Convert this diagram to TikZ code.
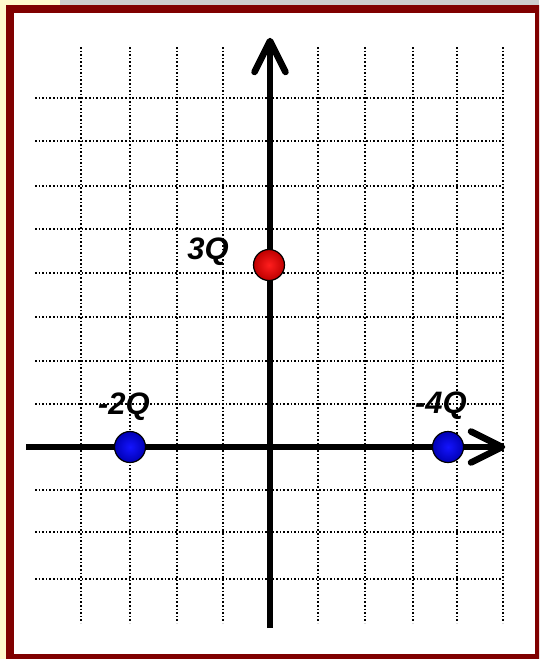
\documentclass[tikz,border=0pt]{standalone}
\usepackage{fontspec}
\setmainfont{Liberation Sans}
\usepackage{xcolor}
\usepackage{tikz}
\definecolor{rahmenrot}{RGB}{128,0,0}
\definecolor{hintergrund}{RGB}{255,249,205}
\definecolor{oben}{RGB}{205,205,205}
\tikzset{
  Gitter/.style={dotted,line width=1.6pt}, % Hilfslinien
  Achse/.style={line width=5.5pt}, % Achsen
  Spitze/.style={line width=6.5pt,line cap=round,line join=round}, % Pfeilspitzen
  Ladung/.style={circle,draw=black,line width=1.2pt,minimum size=31pt,inner sep=0pt},
  LadungRot/.style={Ladung,inner color={rgb,255:red,255;green,30;blue,30},outer color={rgb,255:red,190;green,0;blue,0}},
  LadungBlau/.style={Ladung,inner color={rgb,255:red,20;green,20;blue,255},outer color={rgb,255:red,0;green,0;blue,180}},
  Beschriftung/.style={anchor=base,font={\fontsize{31}{31}\selectfont\bfseries\itshape}}
}

\begin{document}
\begin{tikzpicture}[x=1pt,y=-1pt]
\useasboundingbox (0,0) rectangle (539,659);
\clip (0,0) rectangle (539,659);

%Hintergrund und Rahmen
\fill[hintergrund] (0,0) rectangle (539,659);
\fill[oben] (60,0) rectangle (539,5);
\fill[rahmenrot] (6,5) rectangle (545,665);
\fill[white] (14,13) rectangle (535,654);

%Gitter
\foreach \x in {81,130,177,223,270,318,365,413,457,503}
  \draw[Gitter] (\x,47) -- (\x,623);
\foreach \y in {98,141,186,229,273,317,361,404,447,490,532,579}
  \draw[Gitter] (35,\y) -- (503,\y);

%Achsen
\coordinate (xl) at (26,447);
\coordinate (xr) at (502,447);
\coordinate (xa) at (471,431.5);
\coordinate (xb) at (471,462.5);
\coordinate (yu) at (270,628);
\coordinate (yo) at (270,41);
\coordinate (ya) at (254.5,72);
\coordinate (yb) at (285.5,72);
\draw[Achse] (xl) -- (xr);
\draw[Achse] (yu) -- (yo);
\draw[Spitze] (xa) -- (xr) -- (xb);
\draw[Spitze] (ya) -- (yo) -- (yb);

%Ladungen
\node[LadungRot] (q1) at (269,265) {};
\node[LadungBlau] (q2) at (130,447) {};
\node[LadungBlau] (q3) at (448,447) {};

%Beschriftungen
\node[Beschriftung] (l1) at (208,259) {3Q};
\node[Beschriftung] (l2) at (124,414) {-2Q};
\node[Beschriftung] (l3) at (441,413) {-4Q};

\end{tikzpicture}
\end{document}
